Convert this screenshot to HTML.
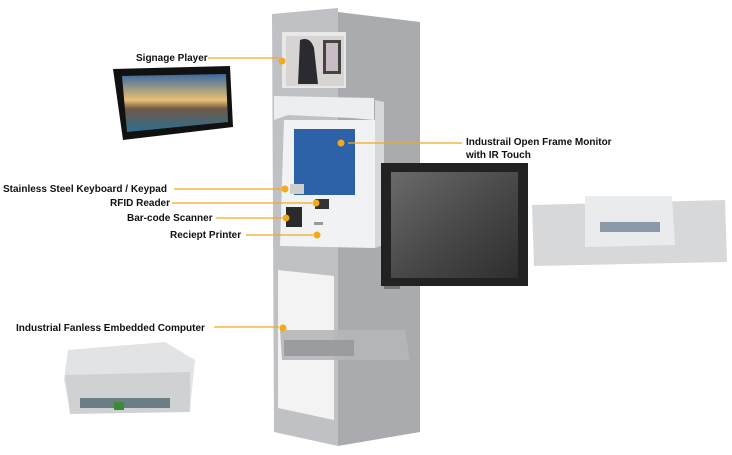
<!DOCTYPE html>
<html><head><style>
body{margin:0;background:#fff;}
svg text{font-family:"Liberation Sans",sans-serif;font-weight:bold;font-size:10px;fill:#111;}
</style></head><body>
<svg width="732" height="450" viewBox="0 0 732 450" xmlns="http://www.w3.org/2000/svg">
<defs>
<linearGradient id="sun" x1="0" y1="0" x2="0" y2="1">
<stop offset="0" stop-color="#3a6aa0"/><stop offset="0.45" stop-color="#e8c070"/><stop offset="0.6" stop-color="#705848"/><stop offset="1" stop-color="#2a7090"/></linearGradient>
<linearGradient id="mon" x1="0" y1="0" x2="1" y2="1">
<stop offset="0" stop-color="#6a6a6a"/><stop offset="0.5" stop-color="#4a4a4a"/><stop offset="1" stop-color="#2e2e2e"/></linearGradient>
</defs>
<!-- kiosk right face -->
<polygon points="338,12 420,22 420,432 338,446" fill="#a9abae"/>
<!-- kiosk front face -->
<polygon points="272,14 338,8 338,446 274,432" fill="#bfc1c4"/>
<!-- top signage screen -->
<rect x="282" y="32" width="64" height="56" fill="#e8e8e8"/>
<rect x="286" y="36" width="58" height="50" fill="#d8d4d4"/>
<path d="M300,40 q10,-4 14,8 l4,36 l-20,0z" fill="#2a2a30"/>
<rect x="323" y="40" width="18" height="34" fill="#444"/>
<rect x="326" y="43" width="12" height="28" fill="#c7bcc4"/>
<!-- kiosk head -->
<polygon points="274,96 374,98 374,120 352,118 288,115 274,120" fill="#eceef0"/>
<polygon points="284,120 375,120 375,248 280,246" fill="#f1f2f3"/>
<polygon points="375,100 384,102 384,245 375,248" fill="#d6d8da"/>
<rect x="294" y="129" width="61" height="66" fill="#2e62a8"/>
<rect x="290" y="184" width="14" height="10" fill="#cfcfcf"/>
<rect x="315" y="199" width="14" height="10" fill="#333"/>
<rect x="286" y="207" width="16" height="20" fill="#2a2a2a"/>
<rect x="314" y="222" width="9" height="3" fill="#999"/>
<!-- lower white panel -->
<polygon points="278,270 334,276 334,420 278,408" fill="#f3f3f3"/>
<!-- embedded computer in kiosk -->
<polygon points="280,330 405,330 410,360 282,360" fill="#b4b6b8" opacity="0.9"/>
<rect x="284" y="340" width="70" height="16" fill="#9a9c9f"/>
<!-- dots -->
<g fill="#f2a91c">
<circle cx="282" cy="61" r="3.5"/><circle cx="341" cy="143" r="3.5"/>
<circle cx="285" cy="189" r="3.5"/><circle cx="316" cy="203" r="3.5"/>
<circle cx="286" cy="218" r="3.5"/><circle cx="317" cy="235" r="3.5"/>
<circle cx="283" cy="328" r="3.5"/></g>
<!-- leader lines -->
<g stroke="#f2a91c" stroke-width="1.2">
<line x1="208" y1="58" x2="278" y2="58"/>
<line x1="348" y1="143" x2="462" y2="143"/>
<line x1="174" y1="189" x2="281" y2="189"/>
<line x1="172" y1="203" x2="312" y2="203"/>
<line x1="216" y1="218" x2="282" y2="218"/>
<line x1="246" y1="235" x2="313" y2="235"/>
<line x1="214" y1="327" x2="279" y2="327"/>
</g>
<!-- signage tablet -->
<polygon points="113,69 230,66 233,127 123,140" fill="#111"/>
<polygon points="122,76 226,74 228,122 127,132" fill="url(#sun)"/>
<!-- open frame monitor -->
<rect x="381" y="163" width="147" height="123" fill="#222"/>
<rect x="391" y="172" width="127" height="106" fill="url(#mon)"/>
<rect x="384" y="286" width="16" height="3" fill="#777"/>
<!-- monitor back -->
<polygon points="532,205 725,200 727,262 534,266" fill="#d6d8da"/>
<polygon points="585,196 672,196 675,245 585,247" fill="#eaebec"/>
<rect x="600" y="222" width="60" height="10" fill="#8a9aa8"/>
<!-- embedded computer -->
<polygon points="68,350 165,342 195,360 190,410 70,410 64,380" fill="#e2e3e4"/>
<polygon points="65,375 190,372 190,412 70,414" fill="#cfd1d3"/>
<rect x="80" y="398" width="90" height="10" fill="#6b7e86"/>
<rect x="114" y="402" width="10" height="8" fill="#3a8a3a"/>
<!-- labels -->
<text x="136" y="61">Signage Player</text>
<text x="466" y="145">Industrail Open Frame Monitor</text>
<text x="466" y="158">with IR Touch</text>
<text x="3" y="192">Stainless Steel Keyboard / Keypad</text>
<text x="110" y="206">RFID Reader</text>
<text x="127" y="221">Bar-code Scanner</text>
<text x="170" y="238">Reciept Printer</text>
<text x="16" y="331">Industrial Fanless Embedded Computer</text>
</svg>
</body></html>
